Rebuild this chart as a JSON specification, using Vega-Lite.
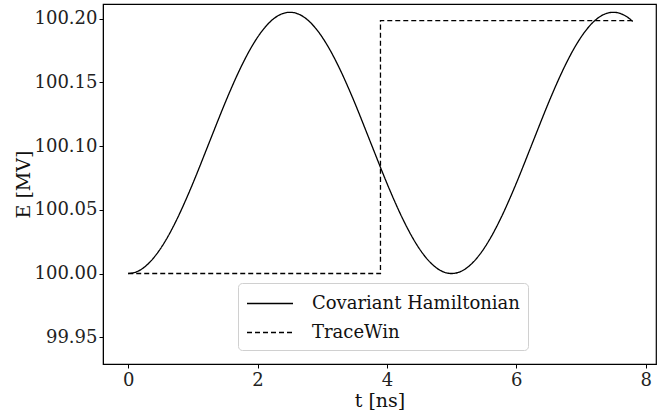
{
  "$schema": "https://vega.github.io/schema/vega-lite/v6.json",
  "width": 553,
  "height": 360,
  "autosize": {"type": "none"},
  "padding": {"left": 103, "top": 4, "right": 4, "bottom": 49},
  "background": "white",
  "config": {
    "font": "DejaVu Serif",
    "view": {"stroke": "black", "strokeWidth": 1.2},
    "axis": {
      "labelFont": "DejaVu Serif",
      "titleFont": "DejaVu Serif",
      "labelFontSize": 18,
      "titleFontSize": 19,
      "titleFontWeight": "normal",
      "labelColor": "#222",
      "titleColor": "#111",
      "domainColor": "black",
      "tickColor": "black",
      "tickSize": 4,
      "grid": false
    }
  },
  "data": {"values": [
    {"series": "Covariant Hamiltonian", "i": 0, "t": 0.0, "E": 100.0000},
    {"series": "Covariant Hamiltonian", "i": 1, "t": 0.1, "E": 100.0008},
    {"series": "Covariant Hamiltonian", "i": 2, "t": 0.2, "E": 100.0032},
    {"series": "Covariant Hamiltonian", "i": 3, "t": 0.3, "E": 100.0072},
    {"series": "Covariant Hamiltonian", "i": 4, "t": 0.4, "E": 100.0127},
    {"series": "Covariant Hamiltonian", "i": 5, "t": 0.5, "E": 100.0196},
    {"series": "Covariant Hamiltonian", "i": 6, "t": 0.6, "E": 100.0278},
    {"series": "Covariant Hamiltonian", "i": 7, "t": 0.7, "E": 100.0372},
    {"series": "Covariant Hamiltonian", "i": 8, "t": 0.8, "E": 100.0476},
    {"series": "Covariant Hamiltonian", "i": 9, "t": 0.9, "E": 100.0589},
    {"series": "Covariant Hamiltonian", "i": 10, "t": 1.0, "E": 100.0708},
    {"series": "Covariant Hamiltonian", "i": 11, "t": 1.1, "E": 100.0833},
    {"series": "Covariant Hamiltonian", "i": 12, "t": 1.2, "E": 100.0961},
    {"series": "Covariant Hamiltonian", "i": 13, "t": 1.3, "E": 100.1089},
    {"series": "Covariant Hamiltonian", "i": 14, "t": 1.4, "E": 100.1217},
    {"series": "Covariant Hamiltonian", "i": 15, "t": 1.5, "E": 100.1342},
    {"series": "Covariant Hamiltonian", "i": 16, "t": 1.6, "E": 100.1461},
    {"series": "Covariant Hamiltonian", "i": 17, "t": 1.7, "E": 100.1574},
    {"series": "Covariant Hamiltonian", "i": 18, "t": 1.8, "E": 100.1678},
    {"series": "Covariant Hamiltonian", "i": 19, "t": 1.9, "E": 100.1772},
    {"series": "Covariant Hamiltonian", "i": 20, "t": 2.0, "E": 100.1854},
    {"series": "Covariant Hamiltonian", "i": 21, "t": 2.1, "E": 100.1923},
    {"series": "Covariant Hamiltonian", "i": 22, "t": 2.2, "E": 100.1978},
    {"series": "Covariant Hamiltonian", "i": 23, "t": 2.3, "E": 100.2018},
    {"series": "Covariant Hamiltonian", "i": 24, "t": 2.4, "E": 100.2042},
    {"series": "Covariant Hamiltonian", "i": 25, "t": 2.5, "E": 100.2050},
    {"series": "Covariant Hamiltonian", "i": 26, "t": 2.6, "E": 100.2042},
    {"series": "Covariant Hamiltonian", "i": 27, "t": 2.7, "E": 100.2018},
    {"series": "Covariant Hamiltonian", "i": 28, "t": 2.8, "E": 100.1978},
    {"series": "Covariant Hamiltonian", "i": 29, "t": 2.9, "E": 100.1923},
    {"series": "Covariant Hamiltonian", "i": 30, "t": 3.0, "E": 100.1854},
    {"series": "Covariant Hamiltonian", "i": 31, "t": 3.1, "E": 100.1772},
    {"series": "Covariant Hamiltonian", "i": 32, "t": 3.2, "E": 100.1678},
    {"series": "Covariant Hamiltonian", "i": 33, "t": 3.3, "E": 100.1574},
    {"series": "Covariant Hamiltonian", "i": 34, "t": 3.4, "E": 100.1461},
    {"series": "Covariant Hamiltonian", "i": 35, "t": 3.5, "E": 100.1342},
    {"series": "Covariant Hamiltonian", "i": 36, "t": 3.6, "E": 100.1217},
    {"series": "Covariant Hamiltonian", "i": 37, "t": 3.7, "E": 100.1089},
    {"series": "Covariant Hamiltonian", "i": 38, "t": 3.8, "E": 100.0961},
    {"series": "Covariant Hamiltonian", "i": 39, "t": 3.9, "E": 100.0833},
    {"series": "Covariant Hamiltonian", "i": 40, "t": 4.0, "E": 100.0708},
    {"series": "Covariant Hamiltonian", "i": 41, "t": 4.1, "E": 100.0589},
    {"series": "Covariant Hamiltonian", "i": 42, "t": 4.2, "E": 100.0476},
    {"series": "Covariant Hamiltonian", "i": 43, "t": 4.3, "E": 100.0372},
    {"series": "Covariant Hamiltonian", "i": 44, "t": 4.4, "E": 100.0278},
    {"series": "Covariant Hamiltonian", "i": 45, "t": 4.5, "E": 100.0196},
    {"series": "Covariant Hamiltonian", "i": 46, "t": 4.6, "E": 100.0127},
    {"series": "Covariant Hamiltonian", "i": 47, "t": 4.7, "E": 100.0072},
    {"series": "Covariant Hamiltonian", "i": 48, "t": 4.8, "E": 100.0032},
    {"series": "Covariant Hamiltonian", "i": 49, "t": 4.9, "E": 100.0008},
    {"series": "Covariant Hamiltonian", "i": 50, "t": 5.0, "E": 100.0000},
    {"series": "Covariant Hamiltonian", "i": 51, "t": 5.1, "E": 100.0008},
    {"series": "Covariant Hamiltonian", "i": 52, "t": 5.2, "E": 100.0032},
    {"series": "Covariant Hamiltonian", "i": 53, "t": 5.3, "E": 100.0072},
    {"series": "Covariant Hamiltonian", "i": 54, "t": 5.4, "E": 100.0127},
    {"series": "Covariant Hamiltonian", "i": 55, "t": 5.5, "E": 100.0196},
    {"series": "Covariant Hamiltonian", "i": 56, "t": 5.6, "E": 100.0278},
    {"series": "Covariant Hamiltonian", "i": 57, "t": 5.7, "E": 100.0372},
    {"series": "Covariant Hamiltonian", "i": 58, "t": 5.8, "E": 100.0476},
    {"series": "Covariant Hamiltonian", "i": 59, "t": 5.9, "E": 100.0589},
    {"series": "Covariant Hamiltonian", "i": 60, "t": 6.0, "E": 100.0708},
    {"series": "Covariant Hamiltonian", "i": 61, "t": 6.1, "E": 100.0833},
    {"series": "Covariant Hamiltonian", "i": 62, "t": 6.2, "E": 100.0961},
    {"series": "Covariant Hamiltonian", "i": 63, "t": 6.3, "E": 100.1089},
    {"series": "Covariant Hamiltonian", "i": 64, "t": 6.4, "E": 100.1217},
    {"series": "Covariant Hamiltonian", "i": 65, "t": 6.5, "E": 100.1342},
    {"series": "Covariant Hamiltonian", "i": 66, "t": 6.6, "E": 100.1461},
    {"series": "Covariant Hamiltonian", "i": 67, "t": 6.7, "E": 100.1574},
    {"series": "Covariant Hamiltonian", "i": 68, "t": 6.8, "E": 100.1678},
    {"series": "Covariant Hamiltonian", "i": 69, "t": 6.9, "E": 100.1772},
    {"series": "Covariant Hamiltonian", "i": 70, "t": 7.0, "E": 100.1854},
    {"series": "Covariant Hamiltonian", "i": 71, "t": 7.1, "E": 100.1923},
    {"series": "Covariant Hamiltonian", "i": 72, "t": 7.2, "E": 100.1978},
    {"series": "Covariant Hamiltonian", "i": 73, "t": 7.3, "E": 100.2018},
    {"series": "Covariant Hamiltonian", "i": 74, "t": 7.4, "E": 100.2042},
    {"series": "Covariant Hamiltonian", "i": 75, "t": 7.5, "E": 100.2050},
    {"series": "Covariant Hamiltonian", "i": 76, "t": 7.6, "E": 100.2042},
    {"series": "Covariant Hamiltonian", "i": 77, "t": 7.7, "E": 100.2018},
    {"series": "Covariant Hamiltonian", "i": 78, "t": 7.8, "E": 100.1978},
    {"series": "TraceWin", "i": 0, "t": 0.0, "E": 100.0000},
    {"series": "TraceWin", "i": 1, "t": 3.9, "E": 100.0000},
    {"series": "TraceWin", "i": 2, "t": 3.9, "E": 100.1985},
    {"series": "TraceWin", "i": 3, "t": 7.8, "E": 100.1985}
  ]},
  "mark": {"type": "line", "color": "black", "strokeWidth": 1.3, "interpolate": "monotone", "clip": true},
  "encoding": {
    "x": {
      "field": "t", "type": "quantitative",
      "scale": {"domain": [-0.39, 8.16], "nice": false, "zero": false},
      "axis": {"values": [0, 2, 4, 6, 8], "format": "d", "title": "t [ns]", "labelPadding": 3, "titlePadding": 2, "labelFlush": false}
    },
    "y": {
      "field": "E", "type": "quantitative",
      "scale": {"domain": [99.929, 100.2115], "nice": false, "zero": false},
      "axis": {"values": [99.95, 100.0, 100.05, 100.1, 100.15, 100.2], "format": ".2f", "title": "E [MV]", "labelPadding": 2, "titlePadding": 1, "labelFlush": false}
    },
    "strokeDash": {
      "field": "series", "type": "nominal",
      "scale": {"domain": ["Covariant Hamiltonian", "TraceWin"], "range": [[1, 0], [5, 3]]},
      "legend": {
        "title": null,
        "orient": "none",
        "legendX": 135,
        "legendY": 279,
        "symbolType": "M-1,0H3",
        "symbolSize": 529,
        "symbolStrokeColor": "black",
        "symbolStrokeWidth": 1.3,
        "labelFont": "DejaVu Serif",
        "labelFontSize": 18,
        "labelLimit": 400,
        "labelColor": "#111",
        "labelOffset": 41,
        "rowPadding": 7,
        "padding": 8,
        "fillColor": "white",
        "strokeColor": "#d0d0d0",
        "cornerRadius": 4
      }
    },
    "order": {"field": "i", "type": "quantitative"}
  }
}
